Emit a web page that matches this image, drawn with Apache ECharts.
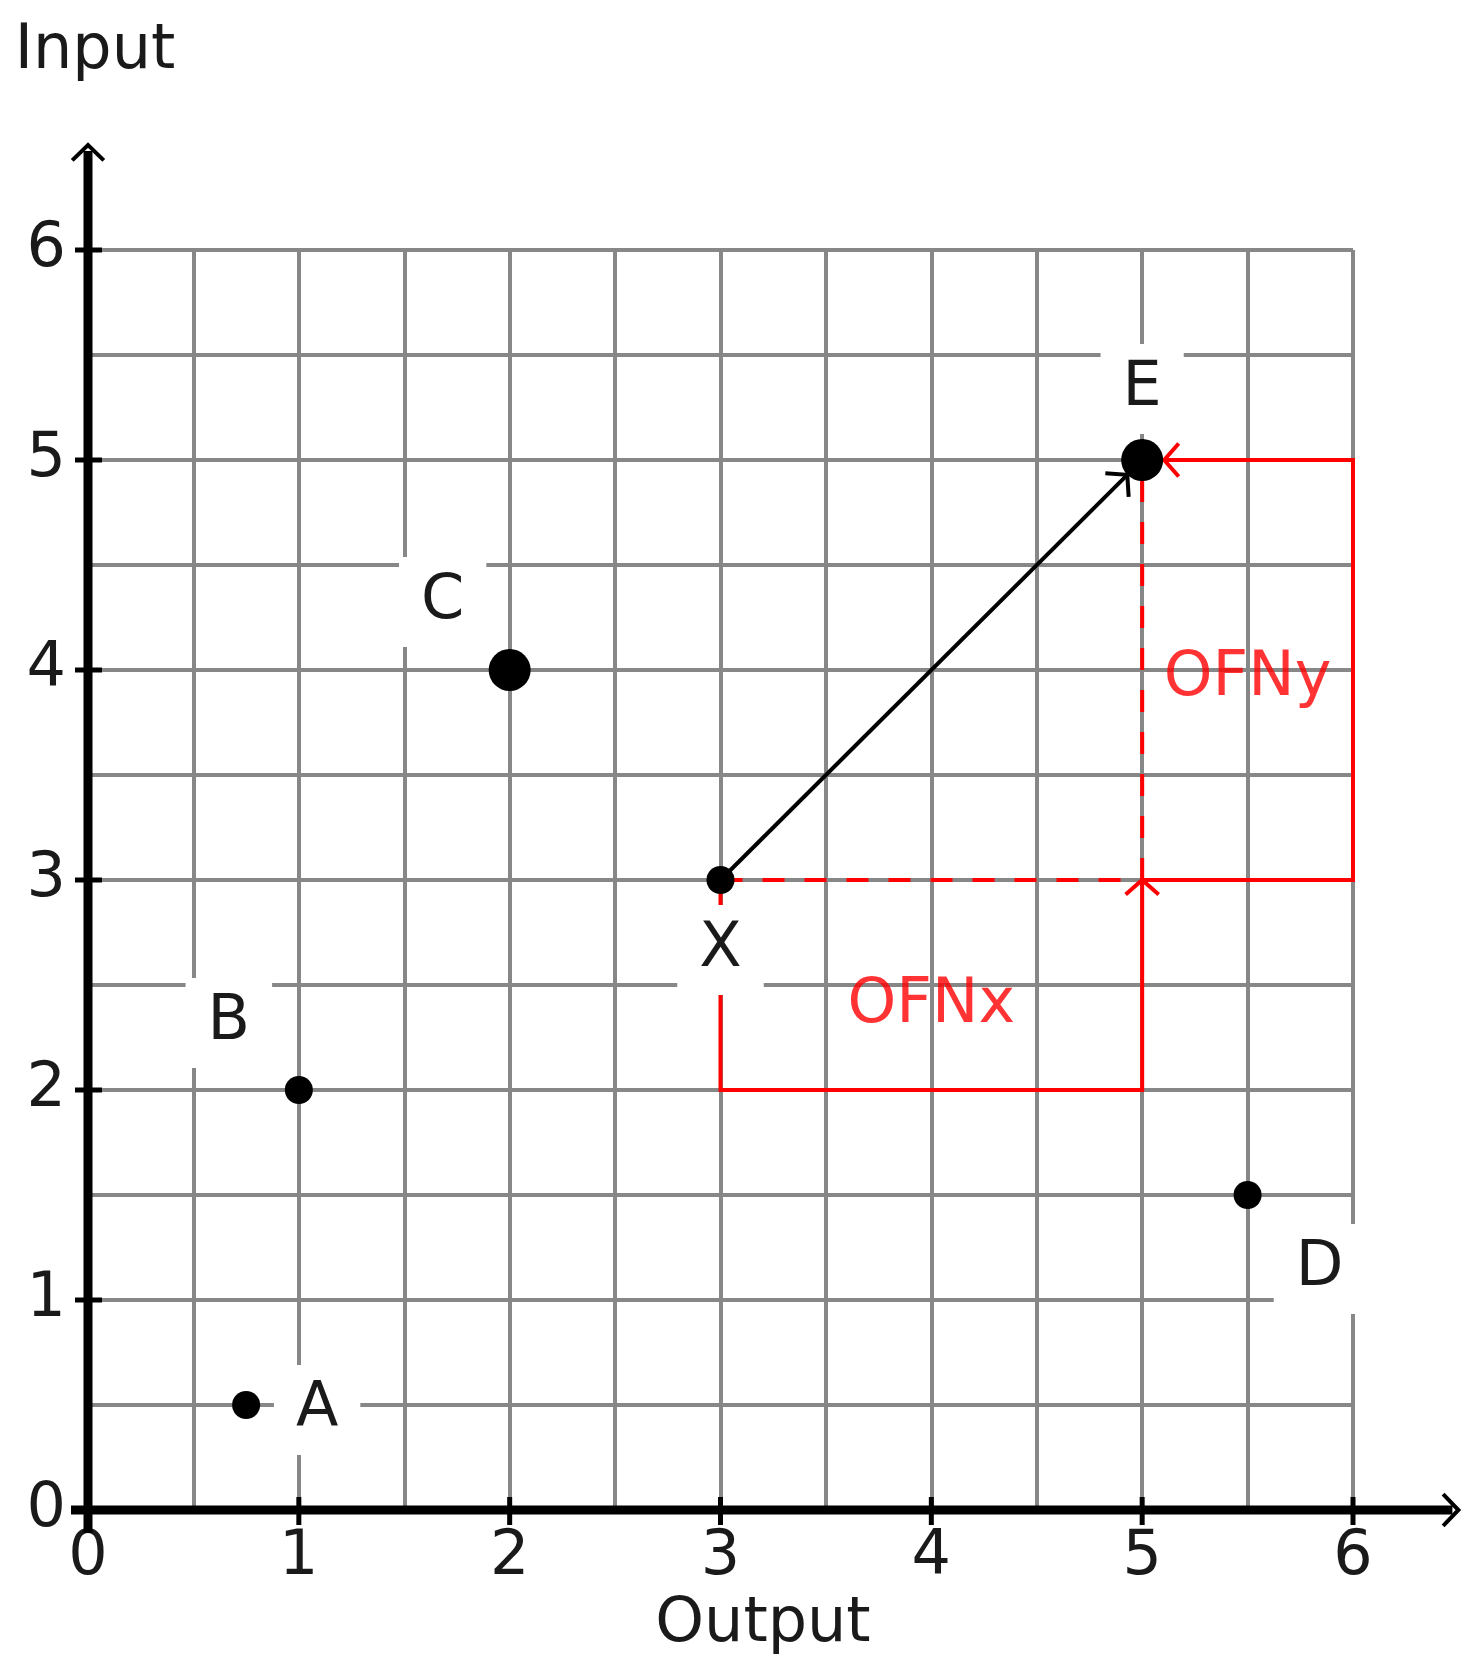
<!DOCTYPE html>
<html>
<head>
    <meta charset="utf-8" />
    <title>OFN</title>
    <script src="https://cdn.jsdelivr.net/npm/echarts@6/dist/echarts.min.js"></script>
    <style>
        html, body { margin: 0; padding: 0; background: #fff; }
        #main { width: 1476px; height: 1672px; }
    </style>
</head>
<body>
    <div id="main"></div>
    <script type="text/javascript">
        // points
        var pointNames = ['A', 'B', 'C', 'D', 'E', 'X'];
        var pointX = [0.75, 1, 2, 5.5, 5, 3];
        var pointY = [0.5, 2, 4, 1.5, 5, 3];
        // tick labels
        var xTicks = [0, 1, 2, 3, 4, 5, 6];
        var yTicks = [0, 1, 2, 3, 4, 5, 6];
        // red notes and their paths (data units)
        var noteNames = ['OFNx', 'OFNy'];
        var noteX = [4, 5.5];
        var noteY = [2.4, 3.96];
        var ofnxPath = [[3, 3], [3, 2], [5, 2], [5, 3]];
        var ofnyPath = [[5, 3], [6, 3], [6, 5], [5, 5]];
        var dashX = [[3, 3], [5, 3]];
        var dashY = [[5, 3], [5, 5]];
        var movePath = [[3, 3], [5, 5]];

        var RED = '#ff0000';
        var GRAY = '#878787';
        var INK = '#1a1a1a';
        var FONT = 'DejaVu Sans';
        var AXIS_END = 6.5;

        function unit(p, q) {
            var dx = q[0] - p[0], dy = q[1] - p[1];
            var l = Math.sqrt(dx * dx + dy * dy);
            return [dx / l, dy / l];
        }
        // open arrow head "v" shape at tip, dir = forward direction
        function chevron(tip, dir, len, ang) {
            var c = Math.cos(ang), s = Math.sin(ang);
            var bx = -dir[0], by = -dir[1];
            return [
                [tip[0] + len * (bx * c - by * s), tip[1] + len * (bx * s + by * c)],
                tip,
                [tip[0] + len * (bx * c + by * s), tip[1] + len * (-bx * s + by * c)]
            ];
        }
        function line(pts, color, width, dash) {
            return {
                type: 'polyline',
                shape: { points: pts },
                style: { fill: 'none', stroke: color, lineWidth: width, lineDash: dash || null }
            };
        }

        function renderAxes(params, api) {
            var o = api.coord([0, 0]);
            var xe = api.coord([AXIS_END, 0]);
            var ye = api.coord([0, AXIS_END]);
            var kids = [];
            kids.push(line([[o[0] - 17, o[1]], [xe[0] - 6, o[1]]], '#000', 9));
            kids.push(line([[o[0], o[1] + 23], [o[0], ye[1] + 6]], '#000', 9));
            kids.push(line(chevron([xe[0], o[1]], [1, 0], 22, 0.8), '#000', 4));
            kids.push(line(chevron([o[0], ye[1]], [0, -1], 22, 0.8), '#000', 4));
            xTicks.forEach(function (t) {
                var p = api.coord([t, 0]);
                kids.push(line([[p[0], p[1] - 13], [p[0], p[1] + 15]], '#000', 5));
            });
            yTicks.forEach(function (t) {
                var p = api.coord([0, t]);
                kids.push(line([[p[0] - 13, p[1]], [p[0] + 14, p[1]]], '#000', 5));
            });
            return { type: 'group', children: kids };
        }

        function renderNotes(params, api) {
            var kids = [];
            var px = function (p) { return api.coord(p); };
            function arrowPath(path, color, gap) {
                var pts = path.map(px);
                var n = pts.length;
                var d = unit(pts[n - 2], pts[n - 1]);
                pts[n - 1] = [pts[n - 1][0] - d[0] * gap, pts[n - 1][1] - d[1] * gap];
                kids.push(line(pts, color, 4));
                kids.push(line(chevron(pts[n - 1], d, 22, 0.85), color, 4));
            }
            kids.push(line(dashX.map(px), RED, 4, [22, 20]));
            kids.push(line(dashY.map(px), RED, 4, [22, 20]));
            arrowPath(ofnxPath, RED, 0);
            arrowPath(ofnyPath, RED, 22);
            arrowPath(movePath, '#000', 21);
            return { type: 'group', children: kids };
        }

        var labelOffset = {
            A: [71, 5], B: [-70, -67], C: [-67, -68],
            D: [72, 74], E: [0, -71], X: [0, 70]
        };

        function valueAxis(extra) {
            var ax = {
                type: 'value',
                min: 0,
                max: 6,
                interval: 1,
                axisLine: { show: false },
                axisTick: { show: false },
                splitLine: { show: true, lineStyle: { color: GRAY, width: 4 } },
                minorTick: { show: false, splitNumber: 2 },
                minorSplitLine: { show: true, lineStyle: { color: GRAY, width: 4 } },
                nameTextStyle: { fontSize: 62, color: INK, fontFamily: FONT }
            };
            for (var k in extra) ax[k] = extra[k];
            return ax;
        }

        var myChart = echarts.init(document.getElementById('main'));
        myChart.setOption({
            animation: false,
            textStyle: { fontFamily: FONT },
            grid: { left: 88, right: 123, top: 250, bottom: 162 },
            xAxis: valueAxis({
                name: 'Output',
                nameLocation: 'middle',
                nameGap: 84,
                nameTextStyle: { fontSize: 62, color: INK, fontFamily: FONT, padding: [0, 0, 0, 85] },
                axisLabel: {
                    fontSize: 62, color: INK, margin: 17,
                    formatter: function (v) { return xTicks.indexOf(v) >= 0 ? String(v) : ''; }
                }
            }),
            yAxis: valueAxis({
                name: 'Input',
                nameLocation: 'end',
                nameGap: 167,
                nameTextStyle: { fontSize: 62, color: INK, fontFamily: FONT, padding: [0, 0, 0, 14] },
                axisLabel: {
                    fontSize: 62, color: INK, margin: 22,
                    formatter: function (v) { return yTicks.indexOf(v) >= 0 ? String(v) : ''; }
                }
            }),
            series: [
                {
                    type: 'custom',
                    z: 3,
                    clip: false,
                    silent: true,
                    renderItem: renderAxes,
                    data: [[0, 0]]
                },
                {
                    type: 'custom',
                    z: 4,
                    clip: false,
                    silent: true,
                    renderItem: renderNotes,
                    data: [[0, 0]]
                },
                {
                    type: 'scatter',
                    z: 5,
                    symbolSize: 0,
                    silent: true,
                    data: noteNames.map(function (n, i) {
                        return { name: n, value: [noteX[i], noteY[i]] };
                    }),
                    label: {
                        show: true, position: 'inside', formatter: '{b}',
                        fontSize: 62, color: RED, fontFamily: FONT
                    }
                },
                {
                    type: 'scatter',
                    z: 6,
                    silent: true,
                    itemStyle: { color: '#000', opacity: 1 },
                    data: pointNames.map(function (n, i) {
                        return {
                            name: n,
                            value: [pointX[i], pointY[i]],
                            symbolSize: (n === 'C' || n === 'E') ? 42 : 28,
                            label: { offset: labelOffset[n] }
                        };
                    }),
                    label: {
                        show: true, position: 'inside', formatter: '{b}',
                        fontSize: 62, lineHeight: 62, color: INK, fontFamily: FONT,
                        backgroundColor: '#fff', padding: [14, 22]
                    }
                }
            ]
        });
    </script>
</body>
</html>
